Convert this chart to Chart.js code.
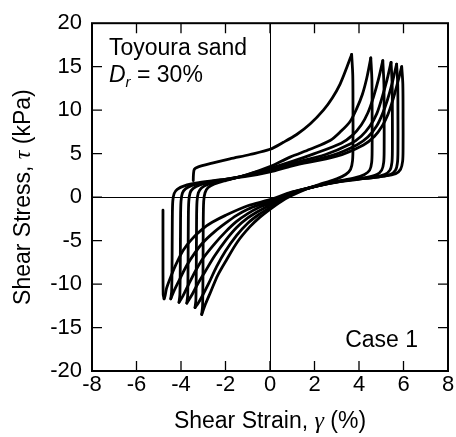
<!DOCTYPE html>
<html>
<head>
<meta charset="utf-8">
<script src="https://cdn.jsdelivr.net/npm/chart.js"></script>
<style>
  html, body { margin: 0; padding: 0; background: #fff; }
</style>
</head>
<body>
<canvas id="loopChart" width="456" height="437"></canvas>
<script>
// axis ticks
const strainTicks = [-8, -6, -4, -2, 0, 2, 4, 6, 8];
const stressTicks = [-20, -15, -10, -5, 0, 5, 10, 15, 20];

// [shear strain %, shear stress kPa], branch by branch
const load1 = [[-3.45,1.9],[-3.44,2.6],[-3.40,3.2],[-3.25,3.45],[-2.6,3.9],[-1.8,4.4],[-0.9,4.9],[0,5.5],[0.6,6.3],[1.2,7.2],[1.8,8.4],[2.4,10.0],[2.8,11.4],[3.15,13.0],[3.45,14.9],[3.67,16.4]];
const unload1 = [[3.67,16.4],[3.72,14],[3.73,10],[3.73,6],[3.71,4.2],[3.62,3.2],[3.4,2.6],[3.0,2.1],[2.4,1.6],[1.7,1.0],[1.0,0.2],[0.5,-0.5],[0,-1.4],[-0.45,-2.3],[-0.9,-3.4],[-1.45,-5.1],[-1.95,-7.2],[-2.35,-9.0],[-2.65,-10.8],[-2.9,-12.3],[-3.07,-13.5]];
const load2 = [[-3.07,-13.5],[-3.03,-12.5],[-3.01,-8],[-3.0,-3],[-2.98,-0.5],[-2.92,0.5],[-2.78,1.1],[-2.5,1.5],[-2.0,1.9],[-1,2.6],[0,3.5],[0.9,4.6],[1.8,5.5],[2.7,6.5],[3.2,7.6],[3.6,8.7],[3.9,10.2],[4.15,11.8],[4.35,13.7],[4.53,16.0]];
const unload2 = [[4.53,16.0],[4.58,13.5],[4.59,9],[4.59,5.5],[4.57,4.0],[4.48,3.1],[4.25,2.6],[3.8,2.2],[3.0,1.8],[2.2,1.35],[1.5,0.85],[0.8,0.1],[0,-1.2],[-0.5,-2.0],[-1,-3.0],[-1.5,-4.4],[-2,-6.2],[-2.4,-8.0],[-2.75,-9.9],[-3.05,-11.4],[-3.25,-12.3],[-3.37,-12.7]];
const load3 = [[-3.37,-12.7],[-3.33,-11.8],[-3.31,-7],[-3.3,-2.5],[-3.28,-0.5],[-3.22,0.5],[-3.08,1.05],[-2.8,1.45],[-2.3,1.8],[-1.5,2.25],[-0.8,2.75],[0,3.3],[1,4.1],[2,5.0],[3.2,6.2],[3.7,7.1],[4.1,8.3],[4.4,9.7],[4.65,11.5],[4.87,13.5],[5.07,15.7]];
const unload3 = [[5.07,15.7],[5.12,13],[5.13,9],[5.13,5.5],[5.11,4.0],[5.02,3.1],[4.8,2.6],[4.3,2.25],[3.5,1.95],[2.5,1.5],[1.5,0.9],[0.8,0.3],[0,-0.9],[-0.5,-1.6],[-1,-2.4],[-1.5,-3.5],[-2,-5.0],[-2.5,-6.8],[-2.9,-8.5],[-3.25,-10.0],[-3.5,-11.2],[-3.74,-12.2]];
const load4 = [[-3.74,-12.2],[-3.7,-11.3],[-3.68,-7],[-3.67,-2.5],[-3.65,-0.5],[-3.59,0.5],[-3.45,1.0],[-3.15,1.4],[-2.6,1.75],[-1.8,2.1],[-0.9,2.6],[0,3.2],[1,3.9],[2.5,4.9],[3.6,6.1],[4.1,7.0],[4.5,8.2],[4.8,9.6],[5.02,11.3],[5.24,13.3],[5.44,15.5]];
const unload4 = [[5.44,15.5],[5.49,13],[5.5,9],[5.5,5.5],[5.48,4.0],[5.39,3.1],[5.15,2.6],[4.6,2.3],[3.8,2.05],[2.8,1.7],[1.8,1.1],[1,0.5],[0,-0.7],[-0.5,-1.2],[-1,-1.9],[-1.5,-2.8],[-2,-4.0],[-2.5,-5.4],[-3,-7.0],[-3.35,-8.5],[-3.65,-10.0],[-3.9,-11.3],[-4.09,-12.1]];
const load5 = [[-4.09,-12.1],[-4.05,-11.2],[-4.03,-7],[-4.02,-2.5],[-4.0,-0.5],[-3.94,0.45],[-3.8,0.95],[-3.5,1.35],[-2.9,1.7],[-2,2.05],[-1,2.5],[0,3.05],[1,3.7],[2.8,4.8],[3.9,6.0],[4.4,6.9],[4.8,8.2],[5.06,9.6],[5.28,11.2],[5.5,13.2],[5.69,15.3]];
const unload5 = [[5.69,15.3],[5.74,13],[5.75,9],[5.75,5.5],[5.73,4.0],[5.64,3.1],[5.4,2.6],[4.85,2.3],[4,2.1],[3,1.75],[2,1.2],[1,0.55],[0,-0.5],[-0.5,-0.9],[-1,-1.4],[-1.5,-2.1],[-2,-3.0],[-2.5,-4.0],[-3,-5.2],[-3.4,-6.5],[-3.75,-7.9],[-4.05,-9.4],[-4.3,-10.7],[-4.46,-11.7]];
const load6 = [[-4.46,-11.7],[-4.42,-10.8],[-4.4,-7],[-4.39,-2.5],[-4.37,-0.5],[-4.31,0.4],[-4.17,0.9],[-3.85,1.3],[-3.2,1.65],[-2.2,2.0],[-1,2.4],[0,2.9],[1,3.6],[3,4.7],[4.2,6.0],[4.7,7.0],[5.05,8.2],[5.3,9.5],[5.5,11.0],[5.72,13.0],[5.92,15.0]];
const unload6 = [[5.92,15.0],[5.97,13],[5.98,9],[5.98,5.5],[5.96,4.1],[5.87,3.2],[5.65,2.7],[5.1,2.4],[4.3,2.15],[3.2,1.8],[2,1.2],[1,0.6],[0,-0.3],[-1,-1.0],[-2,-2.1],[-2.6,-2.9],[-3,-3.6],[-3.5,-4.8],[-3.9,-6.1],[-4.2,-7.6],[-4.45,-9.1],[-4.65,-10.5],[-4.72,-11.4],[-4.76,-11.7]];
const finalLoad = [[-4.76,-11.7],[-4.8,-11.2],[-4.81,-6],[-4.81,-1.5]];

const branches = [load1, unload1, load2, unload2, load3, unload3, load4, unload4, load5, unload5, load6, unload6, finalLoad];

const FONT = "'Liberation Sans', Arial, sans-serif";

// frame, inward ticks, zero lines and the text on the plot
const framePlugin = {
    id: 'frame',
    beforeDatasetsDraw(chart) {
        const {ctx, chartArea: a, scales: {x, y}} = chart;
        ctx.save();
        ctx.strokeStyle = '#000';
        ctx.lineWidth = 1;
        const x0 = Math.round(x.getPixelForValue(0)) + 0.5;
        const y0 = Math.round(y.getPixelForValue(0)) + 0.5;
        ctx.beginPath();
        ctx.moveTo(x0, a.top); ctx.lineTo(x0, a.bottom);
        ctx.moveTo(a.left, y0); ctx.lineTo(a.right, y0);
        ctx.stroke();
        ctx.restore();
    },
    afterDatasetsDraw(chart) {
        const {ctx, chartArea: a, scales: {x, y}} = chart;
        const len = 10;
        ctx.save();
        ctx.strokeStyle = '#000';
        ctx.lineWidth = 1.3;
        ctx.beginPath();
        strainTicks.slice(1, -1).forEach(v => {
            const px = x.getPixelForValue(v);
            ctx.moveTo(px, a.bottom); ctx.lineTo(px, a.bottom - len);
            ctx.moveTo(px, a.top); ctx.lineTo(px, a.top + len);
        });
        stressTicks.slice(1, -1).forEach(v => {
            const py = y.getPixelForValue(v);
            ctx.moveTo(a.left, py); ctx.lineTo(a.left + len, py);
            ctx.moveTo(a.right, py); ctx.lineTo(a.right - len, py);
        });
        ctx.stroke();
        ctx.lineWidth = 2;
        ctx.strokeRect(a.left, a.top, a.right - a.left, a.bottom - a.top);

        // labels inside the plot
        ctx.fillStyle = '#000';
        ctx.textBaseline = 'alphabetic';
        ctx.textAlign = 'left';
        ctx.font = '23px ' + FONT;
        ctx.fillText('Toyoura sand', a.left + 17, 55);
        let tx = a.left + 17;
        ctx.font = 'italic 23px ' + FONT;
        ctx.fillText('D', tx, 82);
        tx += ctx.measureText('D').width;
        ctx.font = 'italic 15px ' + FONT;
        ctx.fillText('r', tx, 87);
        tx += ctx.measureText('r').width;
        ctx.font = '23px ' + FONT;
        ctx.fillText(' = 30%', tx, 82);
        ctx.textAlign = 'right';
        ctx.fillText('Case 1', a.right - 30, 347);

        // axis titles
        drawMixed(ctx, [['Shear Strain, ', '23px ' + FONT], ['\u03b3', 'italic 24px "Liberation Serif", serif'], [' (%)', '23px ' + FONT]],
            (a.left + a.right) / 2, 428);
        ctx.save();
        ctx.translate(30, (a.top + a.bottom) / 2);
        ctx.rotate(-Math.PI / 2);
        drawMixed(ctx, [['Shear Stress, ', '23px ' + FONT], ['\u03c4', 'italic 24px "Liberation Serif", serif'], [' (kPa)', '23px ' + FONT]], 0, 0);
        ctx.restore();
        ctx.restore();
    }
};

function drawMixed(ctx, parts, cx, baseY) {
    let total = 0;
    parts.forEach(p => { ctx.font = p[1]; total += ctx.measureText(p[0]).width; });
    let px = cx - total / 2;
    ctx.textAlign = 'left';
    parts.forEach(p => {
        ctx.font = p[1];
        ctx.fillText(p[0], px, baseY);
        px += ctx.measureText(p[0]).width;
    });
}

const ctx = document.getElementById('loopChart').getContext('2d');
const chart = new Chart(ctx, {
    type: 'scatter',
    data: {
        datasets: branches.map(b => ({
            data: b.map(p => ({x: p[0], y: p[1]})),
            showLine: true,
            borderColor: '#000',
            borderWidth: 2.8,
            borderJoinStyle: 'round',
            borderCapStyle: 'round',
            pointRadius: 0,
            tension: 0.3,
            fill: false
        }))
    },
    options: {
        responsive: false,
        devicePixelRatio: 1,
        animation: false,
        layout: { padding: { top: 14, right: 8, left: 0, bottom: 0 } },
        plugins: { legend: { display: false }, tooltip: { enabled: false } },
        scales: {
            x: {
                type: 'linear',
                min: -8, max: 8,
                afterBuildTicks: s => { s.ticks = strainTicks.map(v => ({value: v})); },
                ticks: { color: '#000', font: { family: FONT, size: 22 }, padding: 1, maxRotation: 0 },
                grid: { display: false, drawTicks: false },
                border: { display: false },
                afterFit: s => { s.height = 66; }
            },
            y: {
                type: 'linear',
                min: -20, max: 20,
                afterBuildTicks: s => { s.ticks = stressTicks.map(v => ({value: v})); },
                ticks: { color: '#000', font: { family: FONT, size: 22 }, padding: 10 },
                grid: { display: false, drawTicks: false },
                border: { display: false },
                afterFit: s => { s.width = 92; }
            }
        }
    },
    plugins: [framePlugin]
});
</script>
</body>
</html>
